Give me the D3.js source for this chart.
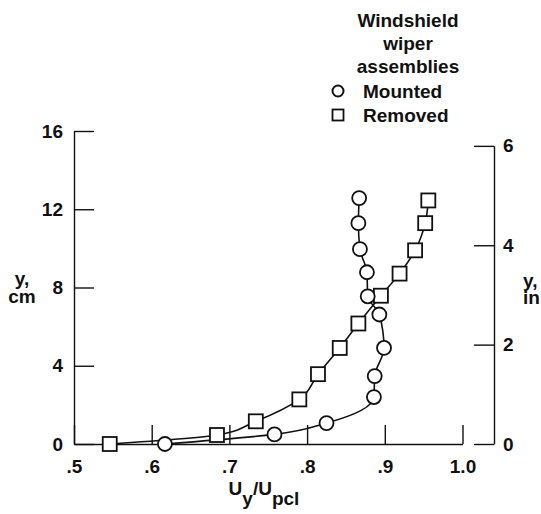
<!DOCTYPE html>
<html><head><meta charset="utf-8">
<script src="https://cdn.jsdelivr.net/npm/d3@7"></script>
<style>
body{margin:0;background:#fff;}
svg{display:block;font-family:"Liberation Sans",Arial,Helvetica,sans-serif;font-weight:bold;}
</style></head>
<body>
<svg id="c" width="541" height="514"></svg>
<script>
// Data (U_y/U_pcl, y in cm)
const mountedU  = [0.617,0.758,0.825,0.886,0.887,0.899,0.893,0.878,0.877,0.868,0.866,0.867];
const mountedY  = [0,0.49,1.07,2.40,3.47,4.91,6.62,7.55,8.78,9.96,11.29,12.57];
const removedU  = [0.546,0.684,0.734,0.790,0.814,0.842,0.866,0.895,0.919,0.939,0.952,0.956];
const removedY  = [0,0.46,1.16,2.28,3.57,4.91,6.16,7.58,8.71,9.90,11.29,12.45];
const xTicks = [0.5,0.6,0.7,0.8,0.9,1.0];
const xTickLabels = [".5",".6",".7",".8",".9","1.0"];
const cmTicks = [0,4,8,12,16];
const inTicks = [0,2,4,6];
const legendTitle = ["Windshield","wiper","assemblies"];
const seriesNames = ["Mounted","Removed"];

const FS = "19px";
const svg = d3.select("#c");
const ink = "#111";
const x = d3.scaleLinear().domain([0.5,1.0]).range([74,462.5]);
const yCm = d3.scaleLinear().domain([0,16]).range([444,131]);
const yIn = d3.scaleLinear().domain([0,6]).range([444, yCm(6*2.54)]);

function styleAxis(g){
  g.selectAll("path,line").attr("stroke",ink).attr("stroke-width",1.4);
  g.selectAll("text").attr("fill",ink).style("font-size",FS).style("font-weight","bold")
   .style("font-family",'"Liberation Sans",Arial,sans-serif');
}

// bottom axis
svg.append("g").attr("transform","translate(0,444)")
  .call(d3.axisBottom(x).tickValues(xTicks).tickSize(-19).tickSizeOuter(0).tickPadding(16)
    .tickFormat((d,i)=>xTickLabels[i]))
  .call(styleAxis);
// left axis
svg.append("g").attr("transform","translate(74,0)")
  .call(d3.axisLeft(yCm).tickValues(cmTicks).tickSize(-20).tickSizeOuter(0).tickPadding(11)
    .tickFormat(d3.format("d")))
  .call(styleAxis);
// right axis
svg.append("g").attr("transform","translate(494,0)")
  .call(d3.axisRight(yIn).tickValues(inTicks).tickSize(-20).tickSizeOuter(0).tickPadding(9)
    .tickFormat(d3.format("d")))
  .call(styleAxis);

// axis titles
const lab = svg.append("g").attr("fill",ink).style("font-size",FS);
lab.append("text").attr("x",22).attr("y",285).attr("text-anchor","middle").text("y,");
lab.append("text").attr("x",22).attr("y",303).attr("text-anchor","middle").text("cm");
lab.append("text").attr("x",523).attr("y",287).attr("text-anchor","start").text("y,");
lab.append("text").attr("x",523).attr("y",304).attr("text-anchor","start").text("in");
const xt = lab.append("text").attr("x",264).attr("y",495).attr("text-anchor","middle");
xt.append("tspan").text("U");
xt.append("tspan").attr("dy",10).text("y");
xt.append("tspan").attr("dy",-10).text("/U");
xt.append("tspan").attr("dy",10).text("pcl");

// curves
const line = d3.line().x(d=>x(d[0])).y(d=>yCm(d[1])).curve(d3.curveMonotoneY);
const mounted = mountedU.map((u,i)=>[u,mountedY[i]]);
const removed = removedU.map((u,i)=>[u,removedY[i]]);
svg.append("path").attr("d",line(mounted)).attr("fill","none").attr("stroke",ink).attr("stroke-width",1.6);
svg.append("path").attr("d",line(removed)).attr("fill","none").attr("stroke",ink).attr("stroke-width",1.6);

// markers
svg.append("g").selectAll("rect").data(removed).join("rect")
  .attr("x",d=>x(d[0])-7).attr("y",d=>yCm(d[1])-7).attr("width",14).attr("height",14)
  .attr("fill","#fff").attr("stroke",ink).attr("stroke-width",1.8);
svg.append("g").selectAll("circle").data(mounted).join("circle")
  .attr("cx",d=>x(d[0])).attr("cy",d=>yCm(d[1])).attr("r",7)
  .attr("fill","#fff").attr("stroke",ink).attr("stroke-width",1.8);

// legend
const lg = svg.append("g").attr("fill",ink).style("font-size",FS);
legendTitle.forEach((t,i)=>lg.append("text").attr("x",408).attr("y",27+i*23).attr("text-anchor","middle").text(t));
lg.append("circle").attr("cx",338).attr("cy",91).attr("r",5.5).attr("fill","#fff").attr("stroke",ink).attr("stroke-width",2);
lg.append("rect").attr("x",332.5).attr("y",109.5).attr("width",11).attr("height",11).attr("fill","#fff").attr("stroke",ink).attr("stroke-width",1.8);
lg.append("text").attr("x",363).attr("y",98).text(seriesNames[0]);
lg.append("text").attr("x",363).attr("y",122).text(seriesNames[1]);
</script>
</body></html>
